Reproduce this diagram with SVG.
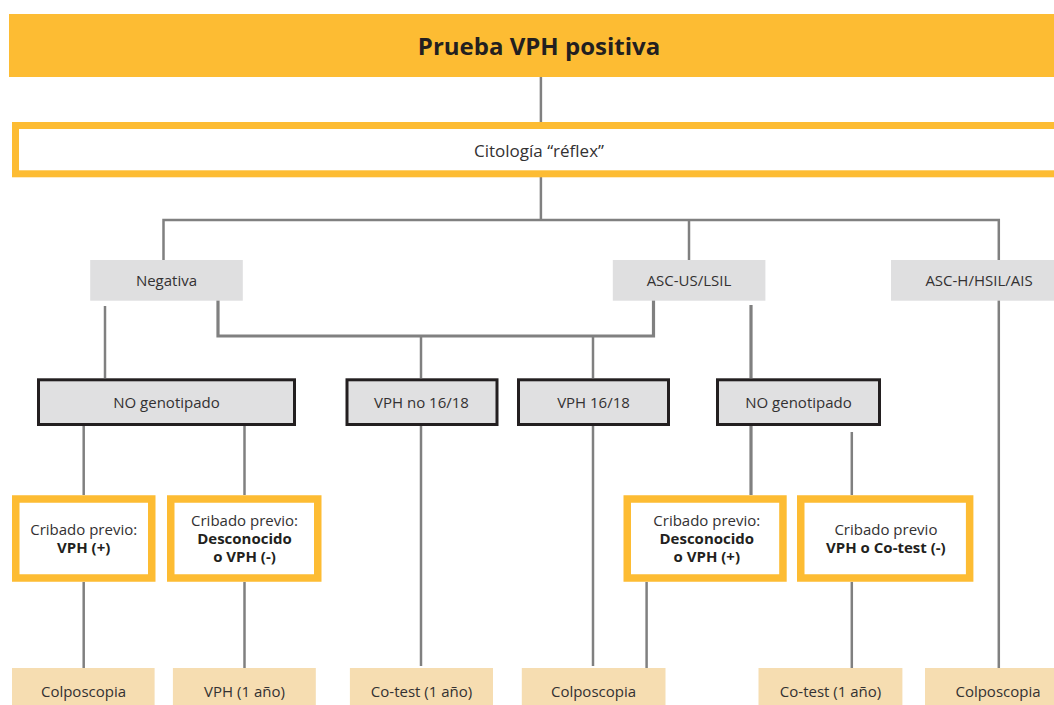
<svg xmlns="http://www.w3.org/2000/svg" width="1054" height="705" viewBox="0 0 1054 705">
  <style>
    .t { font-family: "Open Sans", "Liberation Sans", sans-serif; fill: #333132; text-anchor: middle; }
    .title { font-size: 24px; font-weight: bold; fill: #231f20; }
    .body { font-size: 15px; }
    .b { font-weight: bold; fill: #231f20; }
    .gray { fill: #dfdfe0; }
    .dark { fill: #e0e0e1; stroke: #231f20; stroke-width: 3; }
    .orange { fill: #ffffff; stroke: #fdbc33; stroke-width: 7.5; }
    .tan { fill: #f6ddb1; }
    .conn path { fill: none; stroke: #808080; stroke-width: 2.5; }
    .conn .thick { stroke-width: 3.2; }
  </style>

  <!-- connectors -->
  <g id="connectors" class="conn">
    <path d="M540.9 77 V122"/>
    <path d="M540.9 177 V220"/>
    <path d="M163.5 260 V220 H998.8 V260"/>
    <path d="M689 220 V260"/>
    <path d="M105 306 V378"/>
    <path class="thick" d="M218 300 V336 H653.5 V300"/>
    <path d="M421 336 V378"/>
    <path d="M593 336 V378"/>
    <path class="thick" d="M751 305 V378"/>
    <path d="M83.7 426 V495"/>
    <path d="M244.5 426 V495"/>
    <path class="thick" d="M751 426 V495"/>
    <path d="M851.8 432 V495"/>
    <path d="M83.7 582 V668"/>
    <path d="M244.5 582 V668"/>
    <path d="M421 426 V666"/>
    <path d="M593 426 V666"/>
    <path d="M646.6 582 V668"/>
    <path d="M851.8 582 V668"/>
    <path d="M998.8 300 V668"/>
  </g>

  <!-- header -->
  <g id="n-header">
    <rect x="9" y="14" width="1050" height="63" fill="#fdbc33"/>
    <text class="t title" x="539" y="54.8">Prueba VPH positiva</text>
  </g>

  <g id="n-citologia">
    <rect x="15.5" y="125.5" width="1050" height="48.3" fill="#ffffff" stroke="#fdbc33" stroke-width="7"/>
    <text class="t" font-size="17" x="539" y="157">Citología “réflex”</text>
  </g>

  <!-- cytology results -->
  <g id="n-negativa">
    <rect class="gray" x="90.2" y="260" width="152.6" height="40.7"/>
    <text class="t body" x="166.5" y="286">Negativa</text>
  </g>
  <g id="n-ascus">
    <rect class="gray" x="612.8" y="260" width="152.6" height="40.7"/>
    <text class="t body" x="689" y="286">ASC-US/LSIL</text>
  </g>
  <g id="n-asch">
    <rect class="gray" x="891" y="260" width="170" height="40.7"/>
    <text class="t body" x="979" y="286">ASC-H/HSIL/AIS</text>
  </g>

  <!-- genotyping -->
  <g id="n-nogeno1">
    <rect class="dark" x="38.5" y="379.8" width="256" height="44.7"/>
    <text class="t body" x="166.5" y="408">NO genotipado</text>
  </g>
  <g id="n-vphno1618">
    <rect class="dark" x="347" y="379.8" width="150" height="44.7"/>
    <text class="t body" x="421.5" y="408">VPH no 16/18</text>
  </g>
  <g id="n-vph1618">
    <rect class="dark" x="518.5" y="379.8" width="150" height="44.7"/>
    <text class="t body" x="593.5" y="408">VPH 16/18</text>
  </g>
  <g id="n-nogeno2">
    <rect class="dark" x="717.5" y="379.8" width="162" height="44.7"/>
    <text class="t body" x="798.5" y="408">NO genotipado</text>
  </g>

  <!-- previous screening -->
  <g id="n-previo1">
    <rect class="orange" x="15.75" y="499" width="136" height="79"/>
    <text class="t body" x="83.7" y="535">Cribado previo:</text>
    <text class="t body b" x="83.7" y="553">VPH (+)</text>
  </g>
  <g id="n-previo2">
    <rect class="orange" x="170.75" y="499" width="147" height="79"/>
    <text class="t body" x="244.5" y="525.7">Cribado previo:</text>
    <text class="t body b" x="244.5" y="544">Desconocido</text>
    <text class="t body b" x="244.5" y="562">o VPH (-)</text>
  </g>
  <g id="n-previo3">
    <rect class="orange" x="627.25" y="499" width="155.7" height="79"/>
    <text class="t body" x="706.8" y="525.7">Cribado previo:</text>
    <text class="t body b" x="706.8" y="544">Desconocido</text>
    <text class="t body b" x="706.8" y="562">o VPH (+)</text>
  </g>
  <g id="n-previo4">
    <rect class="orange" x="800.75" y="499" width="168.9" height="79"/>
    <text class="t body" x="885.9" y="535">Cribado previo</text>
    <text class="t body b" x="885.9" y="553">VPH o Co-test (-)</text>
  </g>

  <!-- outcomes -->
  <g id="n-out1">
    <rect class="tan" x="12" y="668" width="142.6" height="40"/>
    <text class="t body" x="83.5" y="696.5">Colposcopia</text>
  </g>
  <g id="n-out2">
    <rect class="tan" x="172.9" y="668" width="142.9" height="40"/>
    <text class="t body" x="244.5" y="696.5">VPH (1 año)</text>
  </g>
  <g id="n-out3">
    <rect class="tan" x="349.9" y="668" width="143.1" height="40"/>
    <text class="t body" x="421.5" y="696.5">Co-test (1 año)</text>
  </g>
  <g id="n-out4">
    <rect class="tan" x="521.8" y="668" width="143.7" height="40"/>
    <text class="t body" x="593.5" y="696.5">Colposcopia</text>
  </g>
  <g id="n-out5">
    <rect class="tan" x="758.5" y="668" width="143.9" height="40"/>
    <text class="t body" x="830.5" y="696.5">Co-test (1 año)</text>
  </g>
  <g id="n-out6">
    <rect class="tan" x="925" y="668" width="135" height="40"/>
    <text class="t body" x="998" y="696.5">Colposcopia</text>
  </g>
</svg>
